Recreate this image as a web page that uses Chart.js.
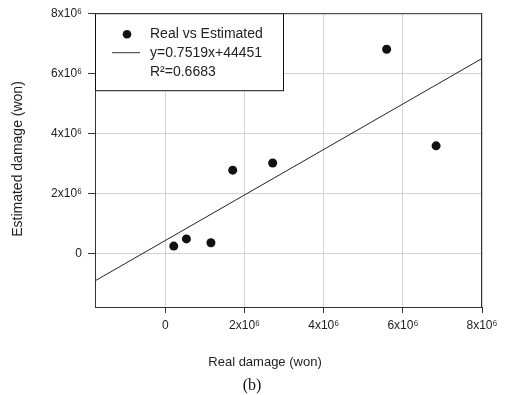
<!DOCTYPE html>
<html>
<head>
<meta charset="utf-8">
<script src="https://cdn.jsdelivr.net/npm/chart.js@4/dist/chart.umd.min.js"></script>
<style>
  html, body { margin: 0; padding: 0; background: #fff; }
  #wrap { width: 505px; height: 395px; }
</style>
</head>
<body>
<div id="wrap"><canvas id="scatter-chart" width="505" height="395"></canvas></div>
<script>
// values (won)
const realDamage      = [0.21e6, 0.53e6, 1.15e6, 1.70e6, 2.71e6, 5.59e6, 6.84e6];
const estimatedDamage = [0.24e6, 0.48e6, 0.35e6, 2.77e6, 3.01e6, 6.80e6, 3.58e6];

// fitted line end points, as drawn
const fitX = [-1.78e6, 8e6];
const fitY = [-0.92e6, 6.49e6];

const xTicks = [0, 2e6, 4e6, 6e6, 8e6];
const xTickLabels = ['0', '2x10\u2076', '4x10\u2076', '6x10\u2076', '8x10\u2076'];
const yTicks = [0, 2e6, 4e6, 6e6, 8e6];
const yTickLabels = ['0', '2x10\u2076', '4x10\u2076', '6x10\u2076', '8x10\u2076'];

const legendLines = ['Real vs Estimated', 'y=0.7519x+44451', 'R\u00b2=0.6683'];

const FONT = '"Liberation Sans", Arial, Helvetica, sans-serif';

var points = realDamage.map(function(x, i) { return {x: x, y: estimatedDamage[i]}; });
var fitPoints = fitX.map(function(x, i) { return {x: x, y: fitY[i]}; });

// frame, legend box, axis titles and caption
var extras = {
  id: 'extras',
  afterDatasetsDraw: function(chart) {
    var ctx = chart.ctx, a = chart.chartArea;
    ctx.save();
    // top and right edges of the frame
    ctx.strokeStyle = '#333';
    ctx.lineWidth = 1;
    ctx.beginPath();
    ctx.moveTo(a.left, a.top + 0.5);
    ctx.lineTo(a.right, a.top + 0.5);
    ctx.moveTo(a.right - 0.5, a.top);
    ctx.lineTo(a.right - 0.5, a.bottom);
    ctx.stroke();

    // legend box
    var bx = a.left, by = a.top, bw = 189, bh = 78;
    ctx.fillStyle = '#fff';
    ctx.fillRect(bx, by, bw, bh);
    ctx.strokeStyle = '#111';
    ctx.strokeRect(bx + 0.5, by + 0.5, bw - 1, bh - 1);

    ctx.fillStyle = '#111';
    ctx.beginPath();
    ctx.arc(bx + 32, by + 21, 4.3, 0, Math.PI * 2);
    ctx.fill();
    ctx.strokeStyle = '#333';
    ctx.beginPath();
    ctx.moveTo(bx + 17, by + 39.5);
    ctx.lineTo(bx + 45, by + 39.5);
    ctx.stroke();

    ctx.font = '14px ' + FONT;
    ctx.textBaseline = 'middle';
    ctx.textAlign = 'left';
    ctx.fillStyle = '#222';
    legendLines.forEach(function(t, i) {
      ctx.fillText(t, bx + 55, by + 21 + i * 19);
    });

    // axis titles
    ctx.font = '13px ' + FONT;
    ctx.textAlign = 'center';
    ctx.fillText('Real damage (won)', 265, 362);
    ctx.save();
    ctx.translate(18, 159);
    ctx.rotate(-Math.PI / 2);
    ctx.font = '14px ' + FONT;
    ctx.fillText('Estimated damage (won)', 0, 0);
    ctx.restore();

    // caption
    ctx.font = '16px "Liberation Serif", "Times New Roman", serif';
    ctx.fillStyle = '#111';
    ctx.fillText('(b)', 252, 386);
    ctx.restore();
  }
};

var options = {
  responsive: false,
  animation: false,
  layout: { padding: { top: 13, right: 23, left: 0, bottom: 0 } },
  plugins: {
    legend: { display: false },
    tooltip: { enabled: false }
  },
  scales: {
    x: {
      type: 'linear',
      min: fitX[0],
      max: 8e6,
      afterBuildTicks: function(s) { s.ticks = xTicks.map(function(v) { return {value: v}; }); },
      afterFit: function(s) { s.height = 88; },
      ticks: {
        autoSkip: false,
        maxRotation: 0,
        padding: 5,
        color: '#222',
        font: { family: FONT, size: 12 },
        callback: function(v) { return xTickLabels[xTicks.indexOf(v)]; }
      },
      grid: { color: '#d2d2d2', tickColor: '#333', tickLength: 6 },
      border: { color: '#333', width: 1 }
    },
    y: {
      type: 'linear',
      min: -1.79e6,
      max: 8e6,
      afterBuildTicks: function(s) { s.ticks = yTicks.map(function(v) { return {value: v}; }); },
      afterFit: function(s) { s.width = 95; },
      ticks: {
        autoSkip: false,
        padding: 6,
        color: '#222',
        font: { family: FONT, size: 12 },
        callback: function(v) { return yTickLabels[yTicks.indexOf(v)]; }
      },
      grid: { color: '#d2d2d2', tickColor: '#333', tickLength: 7 },
      border: { color: '#333', width: 1 }
    }
  }
};

var chart = new Chart(document.getElementById('scatter-chart'), {
  type: 'scatter',
  data: {
    datasets: [{
      label: 'Real vs Estimated',
      data: points,
      pointStyle: 'circle',
      pointRadius: 4.5,
      backgroundColor: '#111',
      borderWidth: 0
    }, {
      label: 'fit',
      type: 'line',
      data: fitPoints,
      showLine: true,
      pointRadius: 0,
      borderColor: '#222',
      borderWidth: 1,
      fill: false
    }]
  },
  options: options,
  plugins: [extras]
});
</script>
</body>
</html>
